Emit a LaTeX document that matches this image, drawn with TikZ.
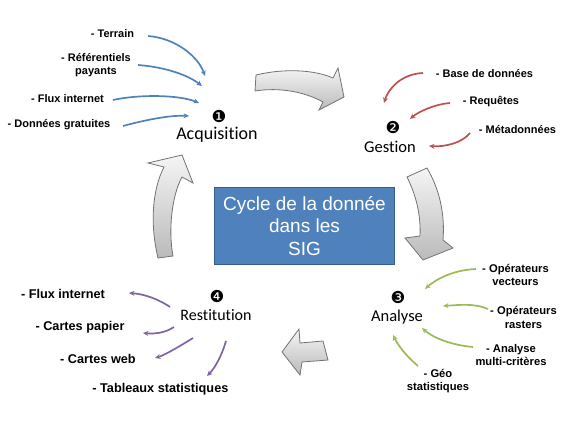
\documentclass[tikz,border=0pt]{standalone}
\usepackage{fontspec}
\setmainfont{Liberation Sans}
\newfontfamily\calibrifont[Ligatures=NoCommon]{Carlito}
\newfontfamily\djvfont{DejaVu Sans}
\usetikzlibrary{arrows.meta}
\definecolor{cblue}{HTML}{4F81BD}
\definecolor{cblueb}{HTML}{385D8A}
\definecolor{cred}{HTML}{C0504D}
\definecolor{cgreen}{HTML}{9BBB59}
\definecolor{cpurple}{HTML}{8064A2}
\tikzset{
 lab/.style={font=\fontsize{11}{13.5}\selectfont\bfseries, align=center, inner sep=0pt},
 labbig/.style={font=\fontsize{12.7}{15}\selectfont\bfseries, align=center, inner sep=0pt},
 stage/.style={font=\calibrifont\fontsize{16.5}{18}\selectfont, inner sep=0pt},
 num/.style={font=\djvfont\fontsize{16.5}{17}\selectfont, inner sep=0pt},
 conn/.style={line width=1.7pt, -{Stealth[length=5.5pt,width=5pt]}},
 bigarrow/.style={draw=black!55, line width=0.8pt, top color=black!4, bottom color=black!27},
 titlebox/.style={draw=cblueb, line width=1.5pt, fill=cblue, text=white, align=center,
   minimum width=180pt, minimum height=77pt, inner sep=0pt,
   font=\fontsize{19}{22.5}\selectfont},
}
\begin{document}
\begin{tikzpicture}[x=1pt,y=-1pt]
\useasboundingbox (0,0) rectangle (576,432);
% big cycle arrows
\shade[bigarrow] (256,75) .. controls (285,68) and (315,70) .. (333,78) -- (338,68) -- (344,97)
  -- (319,110) -- (323,102) .. controls (305,92) and (280,87) .. (255,91) -- cycle;
\shade[bigarrow] (407,177) -- (427,168) .. controls (440,190) and (445,215) .. (443,240)
  -- (453,248) -- (423,260) -- (405,238) -- (420,236) .. controls (421,215) and (416,195) .. (407,177) -- cycle;
\shade[bigarrow] (282,352) -- (299,329) -- (300,343) -- (323,341) -- (328,360) -- (302,362) -- (300,375) -- cycle;
\shade[bigarrow] (182,155) -- (193,183) -- (182,177) .. controls (172,195) and (168,230) .. (173,256)
  -- (158,258) .. controls (150,225) and (152,190) .. (164,167) -- (148,163) -- cycle;
% centre box
\node[titlebox] (box) at (304.5,226) {Cycle de la donn\'ee\\dans les \\SIG};
% stages
\node[num] (n1) at (219,116) {❶};
\node[stage, font=\calibrifont\fontsize{18}{20}\selectfont] (acq) at (217,135) {Acquisition};
\node[num] (n2) at (393,127) {❷};
\node[stage] (ges) at (390,147) {Gestion};
\node[num] (n3) at (398,297) {❸};
\node[stage] (ana) at (397,317) {Analyse};
\node[num] (n4) at (217,296) {❹};
\node[stage, font=\calibrifont\fontsize{16}{18}\selectfont] (res) at (216,315) {Restitution};
% labels acquisition
\node[lab] (a1) at (112.5,34) {- Terrain};
\node[lab] (a2) at (96,65) {- R\'ef\'erentiels\\payants};
\node[lab] (a3) at (67.5,99) {- Flux internet};
\node[lab] (a4) at (59,125) {- Donn\'ees gratuites};
% labels gestion
\node[lab] (g1) at (484.5,74) {- Base de donn\'ees};
\node[lab] (g2) at (491,102) {- Requ\^etes};
\node[lab] (g3) at (517.5,130) {- M\'etadonn\'ees};
% labels analyse
\node[lab, font=\fontsize{11.2}{13.8}\selectfont\bfseries] (an1) at (515.5,275) {- Op\'erateurs\\vecteurs};
\node[lab, font=\fontsize{11.2}{13.8}\selectfont\bfseries] (an2) at (523.5,317.5) {- Op\'erateurs\\rasters};
\node[lab, font=\fontsize{11.2}{13.8}\selectfont\bfseries] (an3) at (511,355) {- Analyse\\multi-crit\`eres};
\node[lab, font=\fontsize{11.2}{13.8}\selectfont\bfseries] (an4) at (438,381) {- G\'eo\\statistiques};
% labels restitution
\node[labbig] (r1) at (63,294) {- Flux internet};
\node[labbig] (r2) at (80,327) {- Cartes papier};
\node[labbig] (r3) at (98,359) {- Cartes web};
\node[labbig] (r4) at (160.4,389) {- Tableaux statistiques};
% connector end points
\coordinate (a1s) at (148,36);  \coordinate (a1e) at (205,76);
\coordinate (a2s) at (138,65);  \coordinate (a2e) at (202,86);
\coordinate (a3s) at (113,100); \coordinate (a3e) at (199,103);
\coordinate (a4s) at (123,126); \coordinate (a4e) at (189,116);
\coordinate (g1s) at (423,73);  \coordinate (g1e) at (384,103);
\coordinate (g2s) at (450,103); \coordinate (g2e) at (410,119);
\coordinate (g3s) at (470,133); \coordinate (g3e) at (429,146);
\coordinate (an1s) at (476,269); \coordinate (an1e) at (425,289);
\coordinate (an2s) at (488,309); \coordinate (an2e) at (443,306);
\coordinate (an3s) at (473,347); \coordinate (an3e) at (422,328);
\coordinate (an4s) at (418,366); \coordinate (an4e) at (393,335);
\coordinate (r1s) at (170,307); \coordinate (r1e) at (129,293);
\coordinate (r2s) at (174,327); \coordinate (r2e) at (143,333);
\coordinate (r3s) at (193,338); \coordinate (r3e) at (155,358);
\coordinate (r4s) at (226,341); \coordinate (r4e) at (207,376);
% connectors
\draw[conn, cblue] (a1s) .. controls (175,38) and (198,56) .. (a1e);
\draw[conn, cblue] (a2s) .. controls (165,67) and (188,75) .. (a2e);
\draw[conn, cblue] (a3s) .. controls (140,94) and (180,95) .. (a3e);
\draw[conn, cblue] (a4s) .. controls (145,120) and (170,115) .. (a4e);
\draw[conn, cred] (g1s) .. controls (400,74) and (388,90) .. (g1e);
\draw[conn, cred] (g2s) .. controls (435,104) and (418,112) .. (g2e);
\draw[conn, cred] (g3s) .. controls (462,143) and (445,147) .. (g3e);
\draw[conn, cgreen] (an1s) .. controls (452,270) and (435,280) .. (an1e);
\draw[conn, cgreen] (an2s) .. controls (475,303) and (458,305) .. (an2e);
\draw[conn, cgreen] (an3s) .. controls (450,345) and (432,337) .. (an3e);
\draw[conn, cgreen] (an4s) .. controls (405,355) and (398,345) .. (an4e);
\draw[conn, cpurple] (r1s) .. controls (160,300) and (145,294) .. (r1e);
\draw[conn, cpurple] (r2s) .. controls (165,333) and (155,334) .. (r2e);
\draw[conn, cpurple] (r3s) .. controls (180,346) and (165,355) .. (r3e);
\draw[conn, cpurple] (r4s) .. controls (222,355) and (215,368) .. (r4e);
\end{tikzpicture}
\end{document}
